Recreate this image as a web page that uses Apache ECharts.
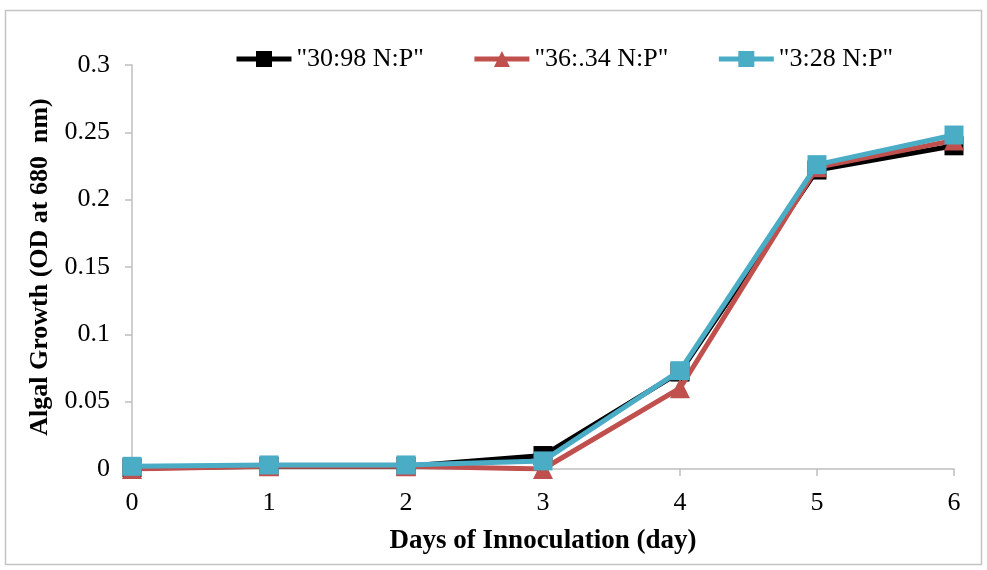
<!DOCTYPE html>
<html>
<head>
<meta charset="utf-8">
<script src="https://cdn.jsdelivr.net/npm/echarts@6/dist/echarts.min.js"></script>
<style>html,body{margin:0;padding:0;background:#fff}#c{width:987px;height:570px}</style>
</head>
<body>
<div id="c"></div>
<script>
const days = [0, 1, 2, 3, 4, 5, 6];
const seriesNames = ['"30:98 N:P"', '"36:.34 N:P"', '"3:28 N:P"'];
const s3098 = [0.001, 0.002, 0.002, 0.010, 0.072, 0.222, 0.240];
const s3634 = [0.000, 0.002, 0.002, 0.000, 0.060, 0.224, 0.244];
const s328  = [0.002, 0.003, 0.003, 0.006, 0.073, 0.226, 0.248];
const xTitle = 'Days of Innoculation (day)';
const yTitle = 'Algal Growth (OD at 680  nm)';

const font = '"Liberation Serif", "Times New Roman", serif';
const pair = arr => days.map((d, i) => [d, arr[i]]);
const mk = (name, arr, color, symbol, z) => ({
  name, type: 'line', data: pair(arr), symbol, symbolSize: symbol === 'triangle' ? 20 : 19,
  lineStyle: { color, width: 5 }, itemStyle: { color }, z, emphasis: { disabled: true },
  animation: false
});

const chart = echarts.init(document.getElementById('c'));
chart.setOption({
  animation: false,
  textStyle: { fontFamily: font },
  graphic: [{
    type: 'rect', shape: { x: 5.5, y: 10.5, width: 976, height: 554 },
    style: { fill: 'none', stroke: '#c4c4c4', lineWidth: 1.5 }, silent: true
  }],
  grid: { left: 132, right: 33, top: 65, bottom: 101 },
  legend: {
    left: 229, top: 41, itemWidth: 55, itemHeight: 20, itemGap: 48,
    lineStyle: { width: 5 },
    textStyle: { fontFamily: font, fontSize: 26, color: '#000' },
    data: seriesNames
  },
  xAxis: {
    type: 'value', min: 0, max: 6, interval: 1,
    name: xTitle, nameLocation: 'middle', nameGap: 59,
    nameTextStyle: { fontFamily: font, fontSize: 27, fontWeight: 'bold', color: '#000' },
    axisLine: { lineStyle: { color: '#bfbfbf', width: 1.5 } },
    axisTick: { show: true, length: 7, lineStyle: { color: '#bfbfbf', width: 1.5 } },
    axisLabel: { fontFamily: font, fontSize: 26, color: '#000', margin: 21 },
    splitLine: { show: false }
  },
  yAxis: {
    type: 'value', min: 0, max: 0.3, interval: 0.05,
    name: yTitle, nameLocation: 'middle', nameGap: 78, nameRotate: 90,
    nameTextStyle: { fontFamily: font, fontSize: 26, fontWeight: 'bold', color: '#000' },
    axisLine: { show: true, lineStyle: { color: '#bfbfbf', width: 1.5 } },
    axisTick: { show: true, length: 7, lineStyle: { color: '#bfbfbf', width: 1.5 } },
    axisLabel: { fontFamily: font, fontSize: 26, color: '#000', margin: 22,
      formatter: v => String(+v.toFixed(2)) },
    splitLine: { show: false }
  },
  series: [
    mk(seriesNames[0], s3098, '#000000', 'rect', 2),
    mk(seriesNames[1], s3634, '#C0504D', 'triangle', 3),
    mk(seriesNames[2], s328, '#4BACC6', 'rect', 4)
  ]
});
</script>
</body>
</html>
